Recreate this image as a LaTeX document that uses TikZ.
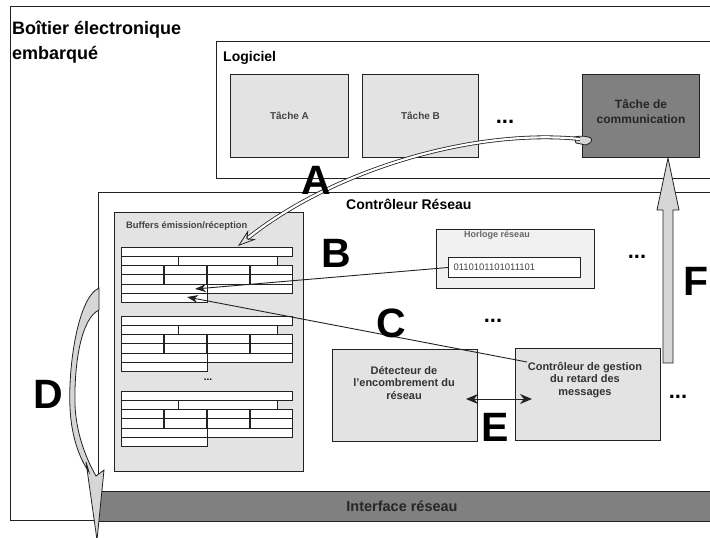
\documentclass[tikz,border=0pt]{standalone}
\usepackage{fontspec}
\setmainfont{Liberation Sans}
\usetikzlibrary{
  arrows.meta,
  positioning,
  calc
}
\definecolor{bxLine}{HTML}{222222}
\definecolor{bxLight}{HTML}{E3E3E3}
\definecolor{bxPale}{HTML}{F1F1F1}
\definecolor{bxDark}{HTML}{808080}
\definecolor{bxText}{HTML}{444444}
\definecolor{bxArrow}{HTML}{D6D6D6}
\tikzset{
  bxnode/.style={
    draw=bxLine, line width=1pt, inner sep=0pt, anchor=north west, align=center
  },
  zone/.style={bxnode},
  task/.style={bxnode, fill=bxLight, minimum height=83pt, text=bxText,
    font=\fontsize{10}{12}\selectfont\bfseries},
  commtask/.style={task, fill=bxDark},
  unit/.style={bxnode, fill=bxLight, minimum width=145pt, minimum height=92pt},
  unittext/.style={align=center, text=black!80, inner sep=0pt,
    font=\fontsize{11}{12.5}\selectfont\bfseries},
  title/.style={inner sep=0pt, anchor=west, font=\fontsize{14}{16}\selectfont\bfseries},
  smalltitle/.style={inner sep=0pt, text=bxText, font=\fontsize{9.4}{11}\selectfont\bfseries},
  bigtag/.style={inner sep=0pt, font=\fontsize{41}{41}\selectfont\bfseries},
  dots/.style={inner sep=0pt, font=\fontsize{22}{22}\selectfont\bfseries},
  cell/.style={draw=bxLine, line width=1pt, fill=white},
  flow/.style={-{Stealth[length=11pt, width=8pt]}, line width=0.9pt, draw=bxLine},
  blockarrow/.style={draw=bxLine, line width=0.8pt, fill=bxArrow}
}
\begin{document}
\begin{tikzpicture}[x=1pt, y=-1pt]
  \useasboundingbox (0,0) rectangle (710,538);
  \clip (0,0) rectangle (710,538);
  \fill[white] (0,0) rectangle (710,538);

  % boitier, logiciel et controleur
  \node[zone, minimum width=720pt, minimum height=514pt] (boitier) at (10,6) {};
  \node[zone, minimum width=514pt, minimum height=137pt] (logiciel) at (216,41) {};
  \node[zone, minimum width=632pt, minimum height=328pt] (ctrl) at (98,192) {};
  \node[inner sep=0pt, anchor=north west, align=left,
    font=\fontsize{18}{25}\selectfont\bfseries] (titre) at (12,21)
    {Boîtier électronique\\embarqué};
  \node[title] (logtitre) at (223,58) {Logiciel};
  \node[title] (ctrltitre) at (346,204) {Contrôleur Réseau};

  % taches
  \node[task, minimum width=118pt] (tA) at (230,74) {Tâche A};
  \node[task, minimum width=116pt] (tB) at (362,74) {Tâche B};
  \node[commtask, minimum width=117pt] (comm) at (582,74) {};
  \node[align=center, inner sep=0pt, text=black!85,
    font=\fontsize{12}{15}\selectfont\bfseries] at ([yshift=4pt]comm.center) {Tâche de\\communication};
  \node[dots] at (505,122) {...};

  % buffers
  \node[bxnode, fill=bxLight, minimum width=189pt, minimum height=259pt] (buf) at (114,212) {};
  \node[smalltitle, anchor=west] (buftitre) at (126,226) {Buffers émission/réception};
  \foreach \t in {247,316,391}{
    \draw[cell] (121,\t) rectangle (292,\t+9.3);
    \draw[cell] (121,\t+9.3) rectangle (178,\t+18.6);
    \draw[cell] (178,\t+9.3) rectangle (277,\t+18.6);
    \foreach \x in {121,164,207,250}{
      \draw[cell] (\x,\t+18.6) rectangle (\x+42.5,\t+27.9);
      \draw[cell] (\x,\t+27.9) rectangle (\x+42.5,\t+37.2);
    }
    \draw[cell] (121,\t+37.2) rectangle (207,\t+46.5);
    \draw[cell] (207,\t+37.2) rectangle (292,\t+46.5);
    \draw[cell] (121,\t+46.5) rectangle (207,\t+55.8);
  }
  \node[inner sep=0pt, font=\fontsize{10}{10}\selectfont\bfseries] at (208,380) {...};

  % horloge
  \node[bxnode, fill=bxPale, minimum width=158pt, minimum height=59pt] (clock) at (436,229) {};
  \node[smalltitle, font=\fontsize{9}{10}\selectfont\bfseries, text=black!60] at (497,235) {Horloge réseau};
  \node[bxnode, fill=white, minimum width=132pt, minimum height=20pt, text width=122pt,
    align=left, font=\fontsize{9.5}{10}\selectfont, text=bxText] (bits) at (448,257) {0110101101011101};

  % detecteur et controleur de gestion
  \node[unit] (det) at (332,349) {};
  \node[unittext] at (404,383) {Détecteur de\\l'encombrement du\\réseau};
  \node[unit] (gest) at (515,348) {};
  \node[unittext] at (585,380) {Contrôleur de gestion\\du retard des\\messages};

  % interface reseau
  \node[bxnode, fill=bxDark, minimum width=632pt, minimum height=30pt] (iface) at (98,491) {};
  \node[inner sep=0pt, text=black!85, font=\fontsize{14.5}{16}\selectfont\bfseries] at (402,506) {Interface réseau};

  \node[dots] at (637,257) {...};
  \node[dots] at (493,321) {...};
  \node[dots] at (678,397) {...};

  % fleches
  \coordinate (bin) at (195,289);
  \coordinate (cin) at (187,297);
  \coordinate (cout) at (527,362);
  \coordinate (eL) at (466,399);
  \coordinate (eR) at (532,399);
  \draw[flow] (bits.west) -- (bin);
  \draw[flow] (cout) -- (cin);
  \draw[{Stealth[length=12pt, width=10pt]}-{Stealth[length=12pt, width=10pt]}, line width=1pt, bxLine] (eL) -- (eR);

  \draw[blockarrow] (574,137) .. controls (590,134) and (598,140) .. (586,145) -- (576,143) -- cycle;
  \draw[draw=bxLine, line width=0.8pt, double=white, double distance=2.2pt,
    -{Stealth[open, length=18pt, width=12pt]}] (580,139) .. controls (470,128) and (330,172) .. (238,246);

  \draw[blockarrow] (99,288) .. controls (76,298) and (66,380) .. (71,420)
    .. controls (74,445) and (82,462) .. (89,472) -- (86,462) -- (97,540) -- (104,470)
    -- (96,476) .. controls (84,455) and (76,430) .. (75,405)
    .. controls (74,360) and (82,318) .. (99,310) -- cycle;

  \draw[blockarrow] (663,363) -- (663,210) -- (657,210) -- (668,158) -- (679,210)
    -- (673,210) -- (673,363) -- cycle;

  % lettres
  \node[bigtag] at (316,180) {A};
  \node[bigtag] at (336,253) {B};
  \node[bigtag] at (391,323) {C};
  \node[bigtag] at (48,394) {D};
  \node[bigtag] at (495,427) {E};
  \node[bigtag, anchor=west] at (683,281) {F};
\end{tikzpicture}
\end{document}
